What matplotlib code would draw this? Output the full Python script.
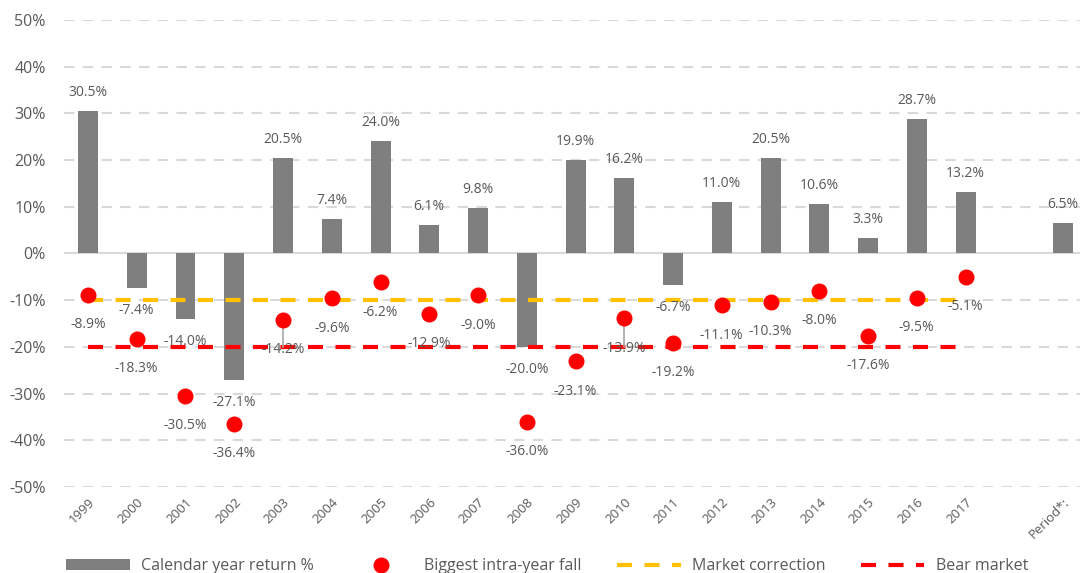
import numpy as np
import matplotlib.pyplot as plt

plt.rcParams['font.family'] = ['Open Sans', 'DejaVu Sans']

years = ['1999', '2000', '2001', '2002', '2003', '2004', '2005', '2006', '2007', '2008',
         '2009', '2010', '2011', '2012', '2013', '2014', '2015', '2016', '2017', '', 'Period*:']
returns = [30.5, -7.4, -14.0, -27.1, 20.5, 7.4, 24.0, 6.1, 9.8, -20.0,
           19.9, 16.2, -6.7, 11.0, 20.5, 10.6, 3.3, 28.7, 13.2, None, 6.5]
falls = [-8.9, -18.3, -30.5, -36.4, -14.2, -9.6, -6.2, -12.9, -9.0, -36.0,
         -23.1, -13.9, -19.2, -11.1, -10.3, -8.0, -17.6, -9.5, -5.1]
correction = -10
bear = -20
# the two grey drop lines seen in the original
drops = {'2003': -14.2, '2010': -13.9}

grey_txt = '#595959'
fig = plt.figure(figsize=(10.8, 5.73), dpi=100)
ax = fig.add_axes([0.0589, 0.15, 0.948, 0.8154])

x = np.arange(len(years))
ret_x = [i for i, r in enumerate(returns) if r is not None]
ret_y = [r for r in returns if r is not None]

ax.set_ylim(-50, 50)
ax.set_xlim(-0.5, len(years) - 0.5)
for v in range(-50, 51, 10):
    if v == 0:
        ax.axhline(0, color='#d9d9d9', lw=1.5, zorder=1)
    else:
        ax.axhline(v, color='#d9d9d9', lw=1.5, ls=(0, (5, 4)), zorder=0)

bars = ax.bar(ret_x, ret_y, width=0.41, color='#7f7f7f', zorder=2)

fx = x[:len(falls)]
corr_line, = ax.plot(fx, [correction] * len(fx), color='#ffc000', lw=3, ls=(0, (3.6, 3.0)),
                     zorder=3)
bear_line, = ax.plot(fx, [bear] * len(fx), color='#ff0000', lw=3, ls=(0, (3.6, 3.0)),
                     zorder=3)

for yr, v in drops.items():
    i = years.index(yr)
    ax.plot([i, i], [v, bear], color='#a6a6a6', lw=1.2, zorder=3)

dots, = ax.plot(fx, falls, 'o', color='#ff0000', ms=10.5, zorder=4, ls='none')

for xi, r in zip(ret_x, ret_y):
    if r >= 0:
        ax.annotate(f'{r:.1f}%', (xi, r), xytext=(0, 8), textcoords='offset points',
                    ha='center', va='bottom', fontsize=10, color=grey_txt)
    else:
        ax.annotate(f'{r:.1f}%', (xi, r), xytext=(0, -11), textcoords='offset points',
                    ha='center', va='top', fontsize=10, color=grey_txt)
for xi, f in zip(fx, falls):
    ax.annotate(f'{f:.1f}%', (xi, f), xytext=(0, -16), textcoords='offset points',
                ha='center', va='top', fontsize=10, color=grey_txt)

ax.set_yticks(range(-50, 51, 10))
ax.set_yticklabels([f'{v}%' for v in range(-50, 51, 10)], fontsize=11.5, color=grey_txt)
ax.set_xticks(x)
ax.set_xticklabels(years, rotation=45, ha='right', rotation_mode='anchor', fontsize=9.5,
                   color=grey_txt)
ax.tick_params(axis='y', length=0, pad=13)
ax.tick_params(axis='x', length=0, pad=6)
for s in ax.spines.values():
    s.set_visible(False)

fig.legend([bars, dots, corr_line, bear_line],
           ['Calendar year return %', 'Biggest intra-year fall', 'Market correction', 'Bear market'],
           ncol=4, loc='lower left', bbox_to_anchor=(0.048, -0.027), frameon=False,
           fontsize=11.5, labelcolor=grey_txt, handlelength=4.0, columnspacing=2.2,
           handletextpad=0.7)

fig.savefig('out.png', dpi=100)
